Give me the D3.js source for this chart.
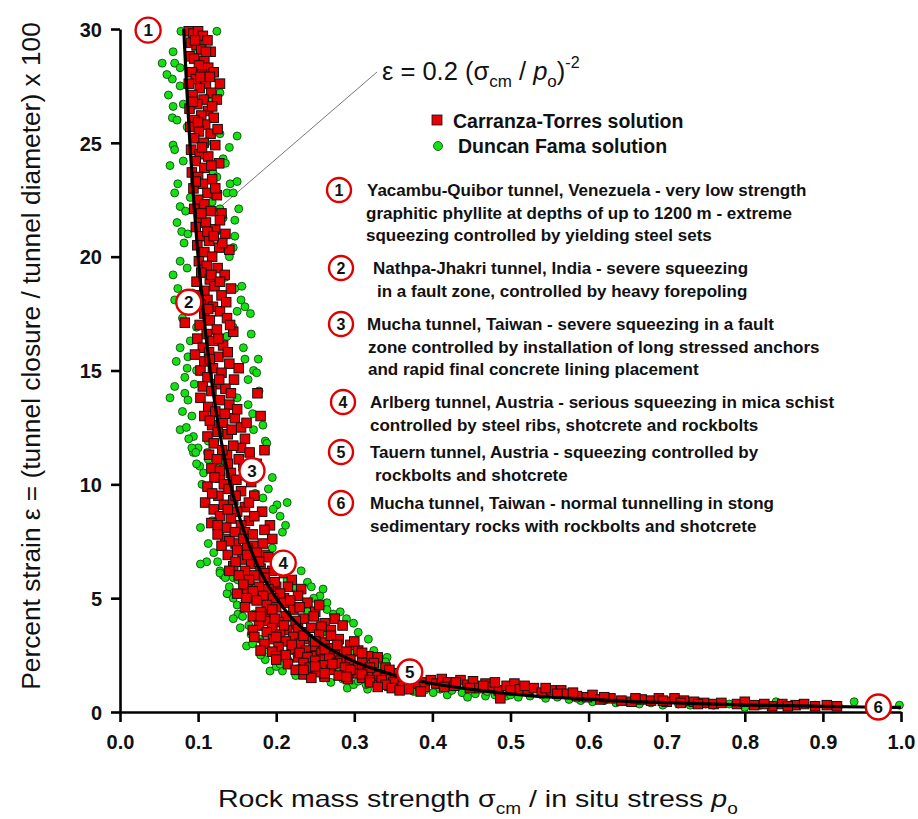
<!DOCTYPE html>
<html><head><meta charset="utf-8">
<script src="https://cdn.jsdelivr.net/npm/d3@7/dist/d3.min.js"></script>
<style>body{margin:0;background:#fff}svg{display:block}</style>
</head><body><svg id="c" width="918" height="819"></svg>
<script>
// ---------- data ----------
const xTicks = [0.0,0.1,0.2,0.3,0.4,0.5,0.6,0.7,0.8,0.9,1.0];
const yTicks = [0,5,10,15,20,25,30];

// fitted curve eps = 0.2 (scm/po)^-2
const curveX = [0.0816,0.085,0.09,0.095,0.1,0.105,0.11,0.115,0.12,0.13,0.14,0.15,0.16,0.17,0.18,0.19,0.2,0.22,0.24,0.26,0.28,0.3,0.33,0.36,0.4,0.45,0.5,0.55,0.6,0.65,0.7,0.75,0.8,0.85,0.9,0.95,1.0];
const curveY = [30,27.7,24.7,22.16,20,18.14,16.53,15.12,13.89,11.83,10.2,8.89,7.81,6.92,6.17,5.54,5.0,4.13,3.47,2.96,2.55,2.22,1.84,1.54,1.25,0.99,0.8,0.66,0.56,0.47,0.41,0.36,0.31,0.28,0.25,0.22,0.2];

// Carranza-Torres solution (red squares)  [scm/po, strain %]
const carranza = [
[0.088,29.9],[0.094,29.8],[0.100,29.9],[0.106,29.7],[0.112,29.5],[0.091,29.4],[0.098,29.3],[0.104,29.1],[0.116,29.0],[0.089,28.8],[0.095,28.7],[0.108,28.6],[0.101,28.4],[0.113,28.3],[0.092,28.1],[0.105,28.0],[0.120,28.1],
[0.097,27.8],[0.088,27.6],[0.110,27.6],[0.128,27.6],[0.102,27.4],[0.117,27.2],[0.093,27.1],[0.107,26.9],[0.124,26.9],[0.099,26.7],[0.089,26.5],[0.113,26.4],[0.104,26.2],[0.120,26.1],[0.095,26.0],
[0.109,25.8],[0.090,25.7],[0.101,25.5],[0.116,25.4],[0.095,25.2],[0.107,25.0],[0.122,24.9],[0.091,24.7],[0.102,24.5],[0.113,24.4],[0.097,24.2],[0.127,24.1],[0.108,23.9],
[0.092,23.7],[0.100,23.5],[0.118,23.4],[0.106,23.2],[0.094,23.0],[0.112,22.8],[0.124,22.7],[0.100,22.5],[0.108,22.3],[0.095,22.1],[0.116,22.0],[0.130,21.9],
[0.102,21.7],[0.110,21.5],[0.097,21.3],[0.122,21.2],[0.135,21.0],[0.105,20.9],[0.114,20.7],[0.099,20.5],[0.127,20.4],[0.108,20.2],[0.140,20.3],[0.118,20.0],
[0.096,29.5],[0.110,29.0],[0.103,27.9],[0.115,27.9],[0.093,26.8],[0.118,26.6],[0.100,25.9],[0.125,25.6],[0.105,24.8],[0.117,24.0],[0.097,23.3],[0.122,23.0],[0.104,21.9],[0.128,21.6],[0.112,21.1],[0.131,20.6],[0.120,20.9],
[0.101,19.8],[0.111,19.6],[0.125,19.5],[0.104,19.3],[0.134,19.2],[0.115,19.0],[0.098,18.9],[0.121,18.7],[0.108,18.5],[0.142,18.6],[0.130,18.3],[0.112,18.1],[0.103,17.9],
[0.083,17.1],[0.119,17.8],[0.128,17.6],[0.108,17.5],[0.137,17.3],[0.115,17.2],[0.102,17.0],[0.124,16.8],[0.111,16.6],[0.145,16.7],[0.099,16.4],[0.119,16.3],[0.132,16.1],[0.106,16.0],
[0.114,15.8],[0.096,15.7],[0.126,15.6],[0.108,15.4],[0.140,15.3],[0.119,15.1],[0.103,15.0],[0.130,14.9],[0.112,14.7],[0.146,14.6],[0.124,14.4],[0.106,14.3],[0.135,14.2],[0.176,14.0],[0.117,14.1],
[0.117,19.2],[0.128,18.9],[0.136,18.0],[0.100,18.3],[0.113,17.7],[0.141,17.0],[0.126,16.4],[0.138,15.8],[0.115,15.5],[0.152,15.1],[0.127,14.6],[0.142,14.0],
[0.103,13.8],[0.128,13.7],[0.140,13.5],[0.113,13.4],[0.122,13.2],[0.180,13.0],[0.108,13.0],[0.147,12.9],[0.132,12.7],[0.118,12.6],[0.155,12.5],[0.125,12.3],[0.138,12.2],[0.112,12.1],[0.160,12.0],
[0.150,13.3],[0.134,13.1],[0.162,12.7],[0.143,12.4],[0.115,12.8],[0.155,11.6],[0.137,11.3],[0.185,11.5],[0.158,10.8],[0.128,10.3],[0.175,10.4],
[0.120,11.8],[0.145,11.7],[0.131,11.5],[0.166,11.4],[0.114,11.3],[0.124,11.1],[0.152,11.1],[0.138,10.9],[0.175,10.9],[0.117,10.7],[0.128,10.6],[0.142,10.5],[0.160,10.4],[0.121,10.3],[0.149,10.2],[0.133,10.0],[0.168,10.1],
[0.112,9.9],[0.139,9.8],[0.155,9.7],[0.126,9.5],[0.172,9.5],[0.109,9.2],[0.145,9.3],[0.133,9.1],[0.160,9.0],[0.120,8.9],[0.150,8.8],[0.182,8.8],[0.128,8.6],[0.142,8.5],[0.165,8.4],[0.117,8.3],[0.155,8.2],[0.192,8.2],[0.136,8.1],
[0.148,9.5],[0.165,9.2],[0.118,9.6],[0.138,8.9],[0.172,8.6],[0.125,8.2],[0.185,8.0],[0.160,7.9],[0.195,7.6],[0.148,7.4],[0.170,7.3],[0.135,7.6],[0.185,6.9],
[0.147,7.9],[0.125,7.8],[0.170,7.8],[0.158,7.6],[0.140,7.5],[0.183,7.4],[0.130,7.3],[0.163,7.2],[0.150,7.1],[0.175,7.0],[0.138,6.9],[0.190,6.8],[0.157,6.7],[0.168,6.5],[0.145,6.4],[0.200,6.4],[0.180,6.3],[0.160,6.2],[0.172,6.0],[0.152,6.0],[0.210,6.1],
[0.163,6.9],[0.148,6.6],[0.178,6.6],[0.195,6.2],[0.140,6.2],[0.185,6.1],[0.220,5.8],[0.200,5.5],[0.163,5.4],[0.232,5.4],[0.210,5.0],[0.172,5.0],
[0.185,5.9],[0.165,5.8],[0.198,5.7],[0.158,5.6],[0.178,5.5],[0.215,5.5],[0.190,5.4],[0.170,5.3],[0.205,5.2],[0.150,5.2],[0.183,5.1],[0.228,5.1],[0.162,5.0],[0.196,5.0],
[0.175,4.9],[0.210,4.8],[0.188,4.7],[0.240,4.8],[0.160,4.6],[0.200,4.6],[0.222,4.5],[0.180,4.4],[0.250,4.4],[0.193,4.3],[0.212,4.2],[0.170,4.2],[0.235,4.1],[0.186,4.0],[0.203,3.95],[0.262,3.9],[0.225,3.85],[0.178,3.8],[0.195,3.7],[0.245,3.7],[0.214,3.6],[0.270,3.6],[0.232,3.5],[0.188,3.5],
[0.218,4.9],[0.255,4.7],[0.195,4.5],[0.230,4.6],[0.180,4.2],[0.248,4.2],[0.225,4.0],[0.275,4.1],[0.198,4.1],[0.210,3.8],[0.258,3.75],[0.285,3.8],[0.170,3.6],[0.228,3.65],
[0.205,3.4],[0.255,3.4],[0.172,3.3],[0.222,3.3],[0.240,3.2],[0.196,3.2],[0.280,3.2],[0.212,3.1],[0.262,3.05],[0.230,3.0],[0.185,3.0],[0.295,2.95],[0.248,2.9],[0.203,2.85],[0.270,2.8],[0.220,2.75],[0.238,2.7],[0.305,2.7],[0.195,2.65],[0.258,2.6],[0.285,2.55],[0.212,2.5],[0.245,2.45],[0.318,2.45],[0.228,2.4],
[0.200,3.3],[0.270,3.35],[0.235,3.35],[0.250,3.1],[0.300,3.1],[0.220,2.95],[0.278,2.95],[0.180,2.7],[0.262,2.75],[0.290,2.65],[0.230,2.6],[0.200,2.45],[0.275,2.5],[0.330,2.4],[0.310,2.6],[0.258,2.3],[0.282,2.25],[0.240,2.4],
[0.268,2.35],[0.200,2.3],[0.295,2.3],[0.250,2.25],[0.235,2.15],[0.278,2.15],[0.325,2.15],[0.215,2.1],[0.260,2.05],[0.305,2.0],[0.243,1.95],[0.288,1.95],[0.340,1.95],[0.225,1.85],[0.270,1.85],[0.318,1.8],[0.252,1.75],[0.298,1.7],[0.350,1.7],[0.235,1.65],[0.280,1.6],[0.330,1.6],[0.262,1.55],[0.310,1.5],[0.360,1.5],[0.292,1.45],[0.245,1.5],
[0.310,2.15],[0.272,2.1],[0.250,2.0],[0.320,1.95],[0.295,1.85],[0.345,1.85],[0.235,1.85],[0.262,1.7],[0.310,1.65],[0.365,1.6],[0.290,1.55],[0.340,1.5],[0.320,1.4],[0.378,1.45],[0.355,1.3],[0.390,1.3],[0.365,1.05],[0.345,1.15],[0.385,1.15],
[0.335,1.4],[0.320,1.3],[0.350,1.3],[0.372,1.35],[0.340,1.2],[0.362,1.15],[0.380,1.25],[0.348,1.05],[0.370,1.0],[0.390,1.1],[0.358,0.95],[0.385,0.9],[0.330,1.1],
[0.398,1.4],[0.405,1.25],[0.412,1.45],[0.420,1.3],[0.428,1.15],[0.436,1.4],[0.445,1.2],[0.452,1.35],[0.460,1.05],[0.468,1.25],[0.476,1.1],[0.485,0.95],[0.487,0.6],[0.495,1.15],[0.505,1.25],[0.512,1.0],[0.522,0.95],[0.530,1.05],[0.540,0.85],[0.552,0.95],[0.565,0.95],[0.572,0.8],[0.585,0.7],[0.598,0.65],[0.605,0.75],[0.615,0.55],[0.628,0.6],[0.642,0.5],[0.655,0.45],[0.668,0.55],[0.680,0.5],[0.690,0.6],[0.700,0.45],[0.710,0.6],[0.722,0.5],[0.735,0.45],[0.748,0.4],[0.760,0.35],[0.790,0.35],[0.800,0.45],[0.812,0.3],[0.835,0.25],[0.848,0.35],[0.865,0.3],[0.876,0.35],[0.905,0.3],[0.918,0.25],
[0.415,1.1],[0.430,1.3],[0.448,1.05],[0.465,1.15],[0.480,1.3],[0.500,0.95],[0.518,1.15],[0.545,1.05],[0.560,0.8],[0.580,0.85],[0.620,0.65],[0.660,0.6],[0.695,0.5],[0.718,0.4],[0.740,0.35],[0.770,0.4],[0.825,0.35],[0.855,0.25],[0.890,0.25]
];

// Duncan Fama solution (green circles)  [scm/po, strain %]
const duncan = [
[0.078,29.9],[0.124,29.9],[0.068,29.0],[0.054,28.5],[0.070,28.5],[0.077,28.3],[0.067,27.8],[0.077,27.5],[0.128,27.2],[0.062,27.1],[0.113,27.0],[0.117,26.8],[0.068,26.6],[0.081,26.7],[0.067,26.1],[0.103,26.1],[0.128,25.4],[0.150,25.3],[0.068,24.9],[0.070,24.7],[0.081,24.2],[0.132,24.3],[0.135,24.1],[0.119,23.7],[0.124,23.5],[0.141,23.2],[0.150,23.3],[0.074,23.2],[0.070,22.8],[0.106,23.2],[0.137,22.8],[0.145,22.8],[0.128,22.1],[0.077,22.2],[0.090,22.6],[0.118,28.0],[0.110,25.0],[0.086,25.7],[0.095,28.9],
[0.060,28.0],[0.073,26.0],[0.140,24.8],[0.064,24.0],[0.118,22.4],[0.084,22.0],[0.152,22.1],
[0.073,21.5],[0.079,21.1],[0.087,21.0],[0.132,21.7],[0.147,21.6],[0.147,20.9],[0.145,20.4],[0.077,19.8],[0.086,19.5],[0.068,19.2],[0.135,19.1],[0.147,18.6],[0.156,18.7],[0.070,18.1],[0.160,17.8],[0.150,17.6],[0.167,17.5],[0.098,16.9],[0.145,16.9],[0.137,16.5],[0.077,16.0],[0.087,15.6],[0.160,15.5],[0.177,15.5],[0.086,15.1],[0.098,15.0],[0.171,15.0],[0.175,14.9],[0.164,14.6],[0.083,14.7],[0.064,13.8],[0.083,14.0],[0.087,13.7],[0.092,13.0],[0.150,13.8],[0.164,13.5],[0.077,12.4],[0.085,12.5],[0.094,12.1],[0.171,12.4],[0.186,11.9],[0.113,11.9],[0.094,11.4],[0.100,11.6],[0.092,11.6],[0.097,11.4],[0.113,11.1],[0.102,10.8],[0.107,10.5],[0.112,11.4],[0.128,11.0],[0.188,11.8],[0.098,10.9],
[0.140,20.0],[0.082,20.6],[0.074,18.6],[0.093,18.4],[0.155,18.1],[0.080,17.3],[0.168,16.6],[0.090,16.3],[0.072,15.4],[0.158,16.0],[0.070,14.3],[0.095,14.4],[0.178,14.1],[0.080,13.2],[0.170,13.1],[0.088,12.0],[0.183,12.6],
[0.190,9.8],[0.201,9.1],[0.214,9.2],[0.183,9.4],[0.173,9.6],[0.103,8.1],[0.113,7.4],[0.128,7.8],[0.141,7.6],[0.208,7.9],[0.205,8.6],[0.111,6.6],[0.103,6.5],[0.128,6.2],[0.132,6.0],[0.145,5.9],[0.151,5.8],[0.214,5.8],[0.222,5.5],[0.240,5.7],[0.245,5.5],[0.256,5.1],[0.265,4.8],[0.138,5.2],[0.150,4.7],[0.151,4.3],[0.240,4.4],[0.273,4.3],[0.282,4.4],[0.128,6.1],[0.135,5.9],[0.137,5.2],[0.145,5.0],[0.167,5.7],[0.248,5.0],[0.265,4.5],
[0.105,10.0],[0.195,10.3],[0.110,9.2],[0.196,8.9],[0.118,8.4],[0.212,8.2],[0.120,7.0],[0.195,7.2],[0.125,6.6],[0.220,6.7],[0.140,5.5],[0.232,6.2],[0.160,4.9],[0.260,5.4],
[0.154,3.7],[0.162,2.9],[0.186,2.3],[0.192,1.8],[0.208,1.8],[0.240,1.6],[0.299,3.9],[0.318,3.2],[0.291,1.05],[0.299,1.2],[0.317,1.0],[0.342,2.4],[0.350,1.1],[0.376,0.9],[0.222,2.7],[0.244,2.0],[0.278,1.75],[0.179,3.2],[0.171,4.3],[0.157,4.2],[0.168,3.4],[0.200,2.0],[0.215,2.3],[0.260,1.5],[0.270,1.3],[0.305,1.35],[0.330,1.5],[0.345,1.7],[0.280,3.0],[0.300,2.6],[0.312,2.2],[0.330,2.0],[0.265,3.5],[0.190,2.7],[0.228,1.9],[0.255,2.4],[0.362,1.2],[0.355,1.45],
[0.145,4.1],[0.290,4.1],[0.165,3.8],[0.170,3.0],[0.305,3.5],[0.180,2.5],[0.325,2.7],[0.205,2.1],[0.340,2.2],[0.225,1.6],[0.255,1.8],[0.285,1.45],[0.315,1.2],[0.370,1.3],[0.335,1.25],[0.390,0.95],
[0.401,0.85],[0.419,0.75],[0.410,1.0],[0.425,0.95],[0.438,0.85],[0.445,0.65],[0.455,0.8],[0.468,0.7],[0.480,0.75],[0.495,0.7],[0.510,0.65],[0.525,0.7],[0.545,0.6],[0.560,0.65],[0.575,0.55],[0.590,0.5],[0.605,0.45],[0.620,0.5],[0.635,0.4],[0.650,0.45],[0.665,0.35],[0.680,0.4],[0.695,0.3],[0.715,0.35],[0.730,0.3],[0.760,0.3],[0.780,0.35],[0.800,0.2],[0.820,0.3],[0.840,0.45],[0.860,0.25],[0.890,0.3],[0.940,0.45],[0.998,0.3],
[0.430,1.1],[0.470,0.9],[0.500,0.75],[0.540,0.75],[0.585,0.6],[0.640,0.5],[0.700,0.4],[0.750,0.35],[0.870,0.35],[0.920,0.25]
];

// numbered case markers on the curve
const caseIds = [1,2,3,4,5,6];
const caseX = [0.036,0.088,0.169,0.209,0.371,0.971];
const caseY = [29.95,18.0,10.6,6.54,1.76,0.22];

const caseNotes = [
 ["Yacambu-Quibor tunnel, Venezuela - very low strength","graphitic phyllite at depths of up to 1200 m - extreme","squeezing controlled by yielding steel sets"],
 ["Nathpa-Jhakri tunnel, India - severe squeezing","in a fault zone, controlled by heavy forepoling"],
 ["Mucha tunnel, Taiwan - severe squeezing in a fault","zone controlled by installation of long stressed anchors","and rapid final concrete lining placement"],
 ["Arlberg tunnel, Austria - serious squeezing in mica schist","controlled by steel ribs, shotcrete and rockbolts"],
 ["Tauern tunnel, Austria - squeezing controlled by","rockbolts and shotcrete"],
 ["Mucha tunnel, Taiwan - normal tunnelling in stong","sedimentary rocks with rockbolts and shotcrete"]
];
const seriesNames = ["Carranza-Torres solution","Duncan Fama solution"];

// ---------- layout ----------
const L = {
  left:120, right:901, top:29, bottom:712,
  noteCircleX:[339,341,341,343,341,341],
  noteCircleY:[190,268,324,402,452,503],
  noteTextX:[[367,366,366],[373,377],[367,368,368],[370,370],[370,375],[370,370]],
  lineH:22.5
};
const FONT = "'Liberation Sans', Arial, Helvetica, sans-serif";
const RED = "#e80000", GREEN = "#14e014";

const svg = d3.select("#c");
svg.append("rect").attr("width",918).attr("height",819).attr("fill","#ffffff");

const x = d3.scaleLinear().domain([0,1]).range([L.left,L.right]);
const y = d3.scaleLinear().domain([0,30]).range([L.bottom,L.top]);

// axes
const gx = svg.append("g").attr("transform",`translate(0,${L.bottom})`)
  .call(d3.axisBottom(x).tickValues(xTicks).tickFormat(d3.format(".1f")).tickSize(10).tickSizeOuter(0).tickPadding(13));
const gy = svg.append("g").attr("transform",`translate(${L.left},0)`)
  .call(d3.axisLeft(y).tickValues(yTicks).tickFormat(d3.format("d")).tickSize(9).tickSizeOuter(0).tickPadding(9));
[gx,gy].forEach(g=>{
  g.attr("font-family",FONT).attr("font-size",20).attr("font-weight","bold");
  g.select(".domain").attr("stroke","#000").attr("stroke-width",2.6);
  g.selectAll(".tick line").attr("stroke","#000").attr("stroke-width",2.6);
  g.selectAll(".tick text").attr("fill","#111");
});
gy.selectAll(".tick text").attr("dy","0.36em");

// leader line from formula to curve
svg.append("line").attr("x1",377).attr("y1",72).attr("x2",x(0.119)).attr("y2",y(21.9))
  .attr("stroke","#666").attr("stroke-width",0.9);

// scatter
svg.append("g").selectAll("circle").data(duncan).join("circle")
  .attr("cx",d=>x(d[0])).attr("cy",d=>y(d[1])).attr("r",4)
  .attr("fill",GREEN).attr("stroke","#0a3a0a").attr("stroke-width",0.8);
const S = 9.5;
svg.append("g").selectAll("rect").data(carranza).join("rect")
  .attr("x",d=>x(d[0])-S/2).attr("y",d=>y(d[1])-S/2).attr("width",S).attr("height",S)
  .attr("fill",RED).attr("stroke","#111").attr("stroke-width",1);

// fitted curve
const curvePts = curveX.map((v,i)=>[v,curveY[i]]);
svg.append("path").datum(curvePts)
  .attr("d",d3.line().x(d=>x(d[0])).y(d=>y(d[1])).curve(d3.curveMonotoneX))
  .attr("fill","none").attr("stroke","#000").attr("stroke-width",3.2);

// numbered circles
function numCircle(g,cx,cy,r,n,fs){
  g.append("circle").attr("cx",cx).attr("cy",cy).attr("r",r)
    .attr("fill","#fff").attr("stroke","#e00000").attr("stroke-width",2.4);
  g.append("text").attr("x",cx).attr("y",cy).attr("dy","0.36em").attr("text-anchor","middle")
    .attr("font-family",FONT).attr("font-size",fs).attr("font-weight","bold").attr("fill","#111").text(n);
}
const gc = svg.append("g");
caseIds.forEach((n,i)=>numCircle(gc,x(caseX[i]),y(caseY[i]),12.5,n,17));

// formula
const fz = svg.append("text").attr("x",382).attr("y",80).attr("font-family",FONT).attr("font-size",25.5).attr("fill","#111");
fz.append("tspan").text("\u03b5 = 0.2 (\u03c3");
fz.append("tspan").attr("font-size",17).attr("dy",7).text("cm");
fz.append("tspan").attr("dy",-7).text(" / ");
fz.append("tspan").attr("font-style","italic").text("p");
fz.append("tspan").attr("font-size",17).attr("dy",7).text("o");
fz.append("tspan").attr("dy",-7).text(")");
fz.append("tspan").attr("font-size",16).attr("dy",-12).text("-2");

// legend
svg.append("rect").attr("x",432).attr("y",115).attr("width",10).attr("height",10).attr("fill",RED).attr("stroke","#111").attr("stroke-width",0.8);
svg.append("circle").attr("cx",438).attr("cy",146).attr("r",4.5).attr("fill",GREEN).attr("stroke","#0a3a0a").attr("stroke-width",0.8);
const legX=[453,458], legY=[128,153];
seriesNames.forEach((s,i)=>{
  svg.append("text").attr("x",legX[i]).attr("y",legY[i]).attr("font-family",FONT)
    .attr("font-size",19.5).attr("font-weight","bold").attr("fill","#111").text(s);
});

// case notes
const gn = svg.append("g");
caseNotes.forEach((lines,i)=>{
  numCircle(gn,L.noteCircleX[i],L.noteCircleY[i],12,caseIds[i],16);
  lines.forEach((ln,j)=>{
    gn.append("text").attr("x",L.noteTextX[i][j]).attr("y",L.noteCircleY[i]+j*L.lineH).attr("dy","0.36em")
      .attr("font-family",FONT).attr("font-size",17).attr("font-weight","bold").attr("fill","#111").text(ln);
  });
});

// axis titles
function fit(sel,target){ const w=sel.node().getComputedTextLength(); return target/w; }
const xt = svg.append("text").attr("font-family",FONT).attr("font-size",24).attr("fill","#111");
xt.append("tspan").text("Rock mass strength \u03c3");
xt.append("tspan").attr("font-size",16).attr("dy",7).text("cm");
xt.append("tspan").attr("dy",-7).text(" / in situ stress ");
xt.append("tspan").attr("font-style","italic").text("p");
xt.append("tspan").attr("font-size",16).attr("dy",7).text("o");
const sx = fit(xt,520);
xt.attr("transform",`translate(218,807) scale(${sx},1)`);

const yt = svg.append("text").attr("font-family",FONT).attr("font-size",25).attr("fill","#111")
  .attr("text-anchor","middle").text("Percent strain \u03b5 = (tunnel closure / tunnel diameter) x 100");
const sy = fit(yt,668);
yt.attr("transform",`translate(40,356) rotate(-90) scale(${sy},1)`);
</script>
</body></html>
